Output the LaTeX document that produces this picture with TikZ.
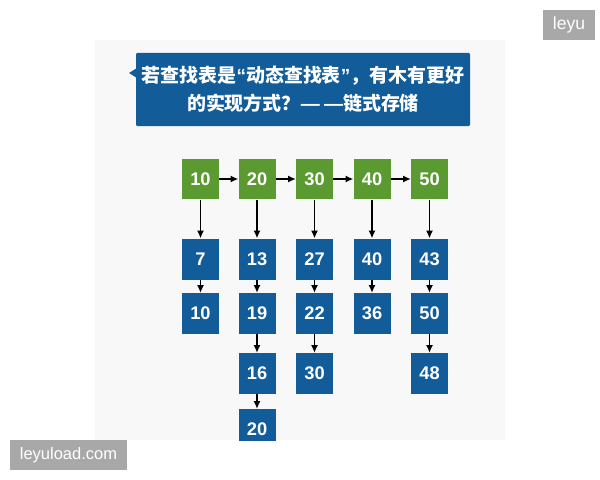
\documentclass[tikz,border=0pt]{standalone}
\usepackage{fontspec}
\setmainfont{Liberation Sans}
\newfontfamily\cjk{Noto Sans CJK SC}
\usepackage{tikz}
\usetikzlibrary{arrows.meta}
\definecolor{slideblue}{RGB}{18,92,154}
\definecolor{slidegreen}{RGB}{90,154,48}
\definecolor{panelgray}{RGB}{248,248,248}
\definecolor{markgray}{RGB}{168,168,168}
\newcommand{\narrowq}[1]{{\rmfamily\bfseries #1}}

\begin{document}
\begin{tikzpicture}[x=0.05cm,y=-0.05cm,
		cell/.style={draw=none, text=white, minimum width=1.85cm, minimum height=2.05cm, inner sep=0pt, font=\fontsize{26}{26}\selectfont\bfseries},
		head/.style={cell, fill=slidegreen},
		item/.style={cell, fill=slideblue},
		link/.style={black, line width=2.1pt, -{Latex[length=11pt,width=10pt]}},
		stamp/.style={fill=markgray, text=white, inner sep=0pt}]
				\useasboundingbox (0,0) rectangle (600,480);
				\fill[white] (0,0) rectangle (600,480);
				\fill[panelgray] (95,40) rectangle (505,440);
				% callout
				\fill[slideblue, rounded corners=1.5pt] (136,53) rectangle (470,126);
				\fill[slideblue] (137,68) -- (129,73) -- (137,78) -- cycle;
				\node[text=white, align=center, font=\cjk\bfseries\fontsize{27}{40}\selectfont] (q) at (303,89.5) {若查找表是\narrowq{“}动态查找表\narrowq{”}，有木有更好\\的实现方式？\narrowq{—\kern6pt—}链式存储};
				% head list
				\node[head] (g1) at (200.5,179) {10};
				\node[head] (g2) at (257,179) {20};
				\node[head] (g3) at (314.5,179) {30};
				\node[head] (g4) at (372,179) {40};
				\node[head] (g5) at (429.5,179) {50};
				\begin{scope}
					\clip (95,40) rectangle (505,440);
					\node[item] (a1) at (200.5,259) {7};
					\node[item] (a2) at (200.5,313.5) {10};
					\node[item] (b1) at (257,259) {13};
					\node[item] (b2) at (257,313.5) {19};
					\node[item] (b3) at (257,373.5) {16};
					\node[item] (b4) at (257,429.5) {20};
					\node[item] (c1) at (314.5,259) {27};
					\node[item] (c2) at (314.5,313.5) {22};
					\node[item] (c3) at (314.5,373.5) {30};
					\node[item] (d1) at (372,259) {40};
					\node[item] (d2) at (372,313.5) {36};
					\node[item] (e1) at (429.5,259) {43};
					\node[item] (e2) at (429.5,313.5) {50};
					\node[item] (e3) at (429.5,373.5) {48};
				\end{scope}
				\draw[link] (g1) -- (g2);
				\draw[link] (g2) -- (g3);
				\draw[link] (g3) -- (g4);
				\draw[link] (g4) -- (g5);
				\draw[link] (g1) -- (a1);
				\draw[link] (a1) -- (a2);
				\draw[link] (g2) -- (b1);
				\draw[link] (b1) -- (b2);
				\draw[link] (b2) -- (b3);
				\draw[link] (b3) -- (b4);
				\draw[link] (g3) -- (c1);
				\draw[link] (c1) -- (c2);
				\draw[link] (c2) -- (c3);
				\draw[link] (g4) -- (d1);
				\draw[link] (d1) -- (d2);
				\draw[link] (g5) -- (e1);
				\draw[link] (e1) -- (e2);
				\draw[link] (e2) -- (e3);
				% watermarks
				\node[stamp, minimum width=2.6cm, minimum height=1.5cm, font=\fontsize{25}{25}\selectfont] (w1) at (569,25) {leyu};
				\node[stamp, minimum width=5.85cm, minimum height=1.5cm, font=\fontsize{23.5}{24}\selectfont] (w2) at (68.5,455) {leyuload.com};
			\end{tikzpicture}
\end{document}
